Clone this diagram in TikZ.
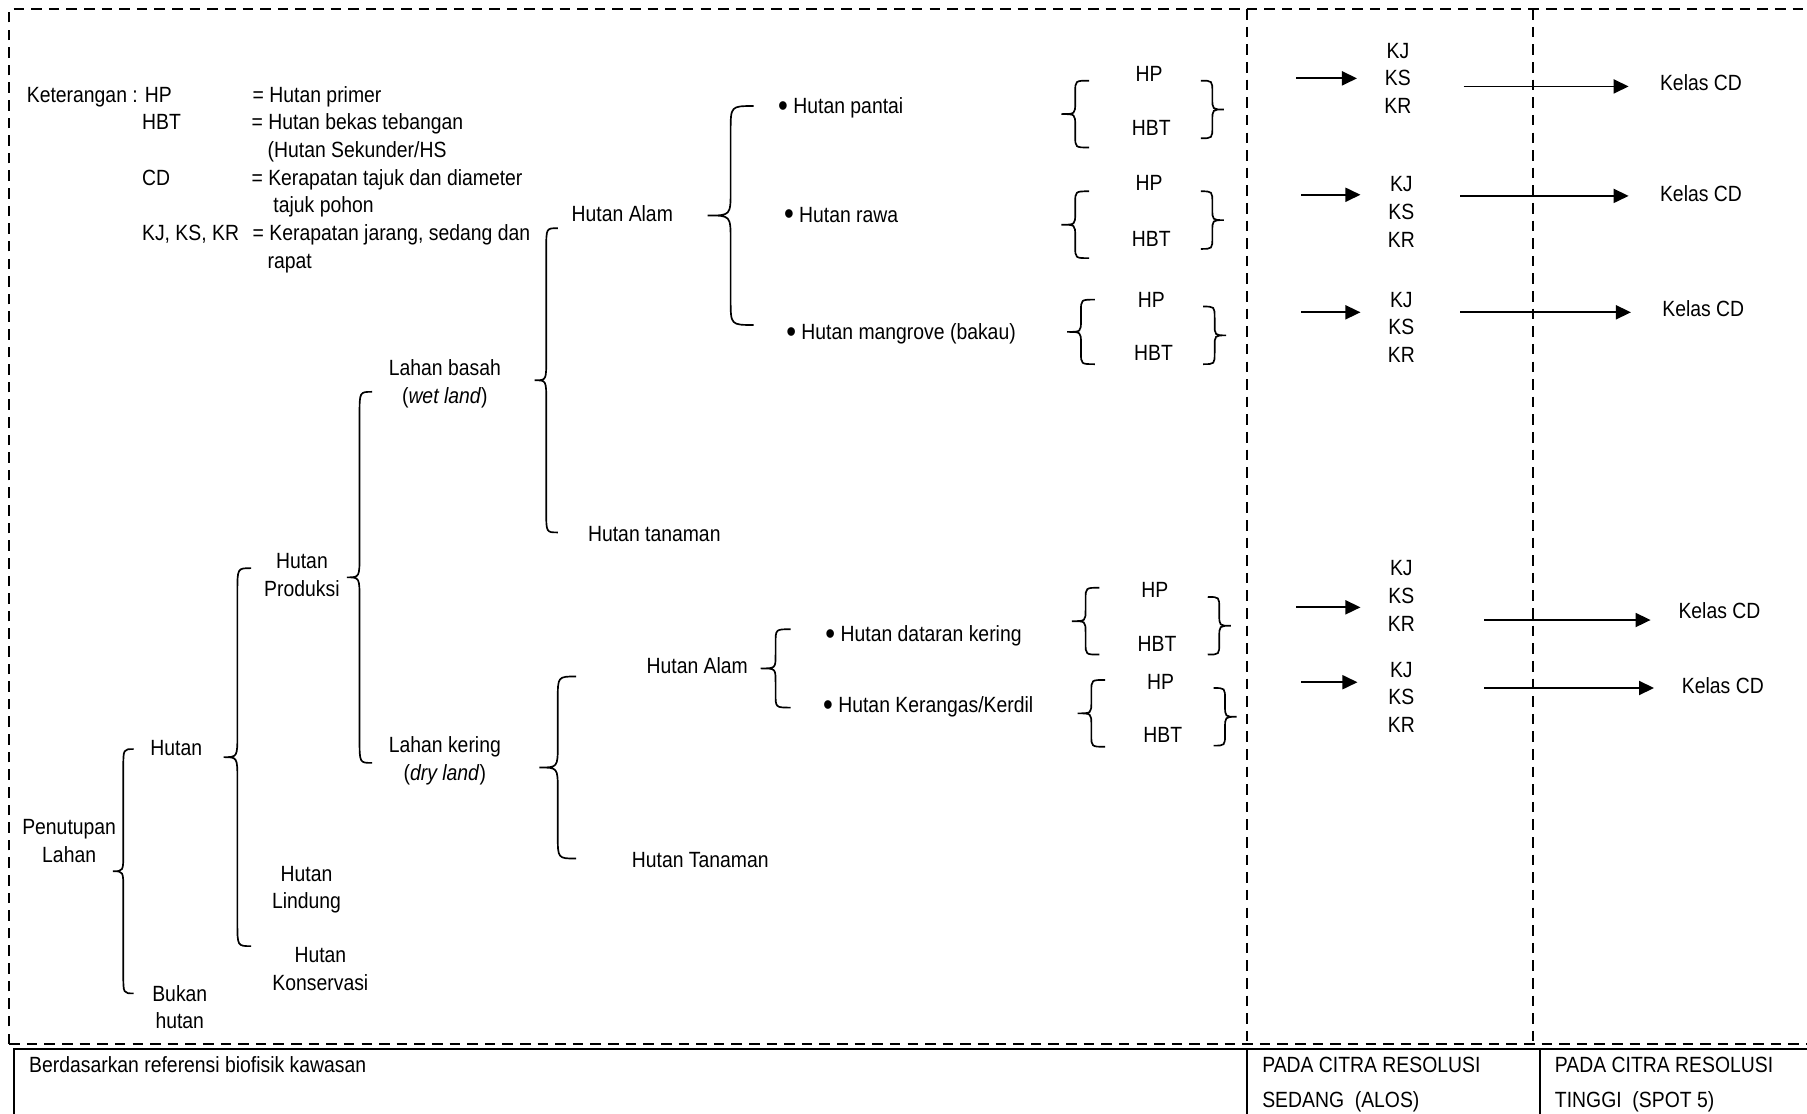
\documentclass[tikz,border=0pt]{standalone}
\usepackage{fontspec}
\setmainfont{Liberation Sans}[FakeStretch=0.88]
\usetikzlibrary{arrows.meta, positioning, calc}

\newcommand{\bul}{\raisebox{-1.6pt}{\fontsize{18}{18}\selectfont •}}

\begin{document}
\begin{tikzpicture}[
    x=0.023cm, y=-0.023cm,
    font=\fontsize{12.5}{15.7}\selectfont,
    txt/.style={inner sep=0pt, align=center},
    lft/.style={inner sep=0pt, anchor=mid west, yshift=-0.06cm},
    brc/.style={line width=0.95pt},
    arr/.style={-{Triangle[length=0.3cm, width=0.28cm]}, line width=1pt},
    dashline/.style={dash pattern=on 6pt off 4pt, line width=0.9pt},
    boxline/.style={line width=1.3pt},
    pics/lbr/.style n args={3}{code={
        \draw[brc] (#2,-#1) .. controls (0,-#1) .. (0,-#1+#3) -- (0,-#3)
            .. controls (0,0) .. (-#2,0) .. controls (0,0) .. (0,#3)
            -- (0,#1-#3) .. controls (0,#1) .. (#2,#1);
    }},
    pics/rbr/.style n args={3}{code={
        \draw[brc] (-#2,-#1) .. controls (0,-#1) .. (0,-#1+#3) -- (0,-#3)
            .. controls (0,0) .. (#2,0) .. controls (0,0) .. (0,#3)
            -- (0,#1-#3) .. controls (0,#1) .. (-#2,#1);
    }}
]
\useasboundingbox (0,0) rectangle (1568,966);

% Marco punteado
\draw[dashline] (8,906) -- (8,8) -- (1580,8);
\draw[dashline] (8,906) -- (1580,906);
\draw[dashline] (1082,8) -- (1082,906);
\draw[dashline] (1330,8) -- (1330,906);

% Caja inferior
\draw[boxline] (12,980) -- (12,910) -- (1580,910);
\draw[boxline] (1082,910) -- (1082,980);
\draw[boxline] (1336,910) -- (1336,980);
\node[lft] (ref) at (25,924) {Berdasarkan referensi biofisik kawasan};
\node[lft] (alos1) at (1095,924) {PADA CITRA RESOLUSI};
\node[lft] (alos2) at (1095,954) {SEDANG\ \ (ALOS)};
\node[lft] (spot1) at (1349,924) {PADA CITRA RESOLUSI};
\node[lft] (spot2) at (1349,954) {TINGGI\ \ (SPOT 5)};

% Leyenda
\node[lft] (ket) at (23,82) {Keterangan : HP};
\node[lft] (ab2) at (123,106) {HBT};
\node[lft] (ab3) at (123,154) {CD};
\node[lft] (ab4) at (123,202) {KJ, KS, KR};
\node[lft] (df1) at (219,82) {= Hutan primer};
\node[lft] (df2) at (218,106) {= Hutan bekas tebangan};
\node[lft] (df2b) at (232,130) {(Hutan Sekunder/HS};
\node[lft] (df3) at (218,154) {= Kerapatan tajuk dan diameter};
\node[lft] (df3b) at (237,178) {tajuk pohon};
\node[lft] (df4) at (219,202) {= Kerapatan jarang, sedang dan};
\node[lft] (df4b) at (232,226) {rapat};

% Penutupan lahan
\node[txt] (pl) at (60,730) {Penutupan\\Lahan};
\pic at (107,756) {lbr={106}{9}{16}};
\node[txt] (hutan) at (153,649) {Hutan};
\node[txt] (bukan) at (156,874) {Bukan\\hutan};

% Hutan
\pic at (206,657) {lbr={164}{12}{20}};
\node[txt] (prod) at (262,499) {Hutan\\Produksi};
\node[txt] (lind) at (266,772) {Hutan\\Lindung};
\node[txt] (kons) at (278,841) {Hutan\\Konservasi};

% Hutan produksi
\pic at (312,501) {lbr={161}{11}{20}};
\node[txt] (basah) at (386,333) {Lahan basah\\(\textit{wet land})};
\node[txt] (kering) at (386,660) {Lahan kering\\(\textit{dry land})};

% Lahan basah
\pic at (474,330) {lbr={132}{10}{18}};
\node[txt] (alam1) at (540,185) {Hutan Alam};
\node[lft] (tan1) at (510,463) {Hutan tanaman};

\pic at (634,187) {lbr={95}{20}{22}};
\node[lft] (pantai) at (675,92) {\bul\ Hutan pantai};
\node[lft] (rawa) at (680,186) {\bul\ Hutan rawa};
\node[lft] (mangr) at (682,288) {\bul\ Hutan mangrove (bakau)};

% Lahan kering
\pic at (484,666) {lbr={79}{16}{20}};
\node[txt] (alam2) at (605,578) {Hutan Alam};
\node[lft] (tan2) at (548,746) {Hutan Tanaman};

\pic at (673,580) {lbr={34}{13}{12}};
\node[lft] (datar) at (716,550) {\bul\ Hutan dataran kering};
\node[lft] (kerang) at (714,612) {\bul\ Hutan Kerangas/Kerdil};

% HP / HBT
\pic at (933,99) {lbr={29}{12}{10}};
\node[txt] (hp1) at (997,64) {HP};
\node[txt] (hbt1) at (999,111) {HBT};
\pic at (1052,95) {rbr={25}{10}{10}};

\pic at (933,195) {lbr={29}{12}{10}};
\node[txt] (hp2) at (997,159) {HP};
\node[txt] (hbt2) at (999,207) {HBT};
\pic at (1052,191) {rbr={25}{10}{10}};

\pic at (938,288) {lbr={28}{12}{10}};
\node[txt] (hp3) at (999,260) {HP};
\node[txt] (hbt3) at (1001,306) {HBT};
\pic at (1054,291) {rbr={25}{10}{10}};

\pic at (942,539) {lbr={29}{12}{10}};
\node[txt] (hp4) at (1002,512) {HP};
\node[txt] (hbt4) at (1004,559) {HBT};
\pic at (1058,543) {rbr={25}{10}{10}};

\pic at (947,619) {lbr={29}{12}{10}};
\node[txt] (hp5) at (1007,592) {HP};
\node[txt] (hbt5) at (1009,638) {HBT};
\pic at (1063,622) {rbr={25}{10}{10}};

% Kerapatan
\node[txt] (k1) at (1213,68) {KJ\\KS\\KR};
\node[txt] (k2) at (1216,184) {KJ\\KS\\KR};
\node[txt] (k3) at (1216,284) {KJ\\KS\\KR};
\node[txt] (k4) at (1216,517) {KJ\\KS\\KR};
\node[txt] (k5) at (1216,605) {KJ\\KS\\KR};

% Kelas CD
\node[txt] (cd1) at (1476,72) {Kelas CD};
\node[txt] (cd2) at (1476,168) {Kelas CD};
\node[txt] (cd3) at (1478,268) {Kelas CD};
\node[txt] (cd4) at (1492,530) {Kelas CD};
\node[txt] (cd5) at (1495,595) {Kelas CD};

% Flechas cortas
\coordinate (a1) at (1125,68);
\coordinate (a2) at (1129,169);
\coordinate (a3) at (1129,271);
\coordinate (a4) at (1125,527);
\coordinate (a5) at (1129,592);
\draw[arr] (a1) -- ([xshift=-0.54cm]a1 -| k1.west);
\draw[arr] (a2) -- ([xshift=-0.54cm]a2 -| k2.west);
\draw[arr] (a3) -- ([xshift=-0.54cm]a3 -| k3.west);
\draw[arr] (a4) -- ([xshift=-0.54cm]a4 -| k4.west);
\draw[arr] (a5) -- ([xshift=-0.6cm]a5 -| k5.west);

% Flechas largas
\coordinate (s1) at (1270,75);
\coordinate (s2) at (1267,170);
\coordinate (s3) at (1267,271);
\coordinate (s4) at (1288,538);
\coordinate (s5) at (1288,597);
\draw[arr] (s1) -- ([xshift=-0.62cm]s1 -| cd1.west);
\draw[arr] (s2) -- ([xshift=-0.62cm]s2 -| cd2.west);
\draw[arr] (s3) -- ([xshift=-0.62cm]s3 -| cd3.west);
\draw[arr] (s4) -- ([xshift=-0.55cm]s4 -| cd4.west);
\draw[arr] (s5) -- ([xshift=-0.55cm]s5 -| cd5.west);

\end{tikzpicture}
\end{document}
